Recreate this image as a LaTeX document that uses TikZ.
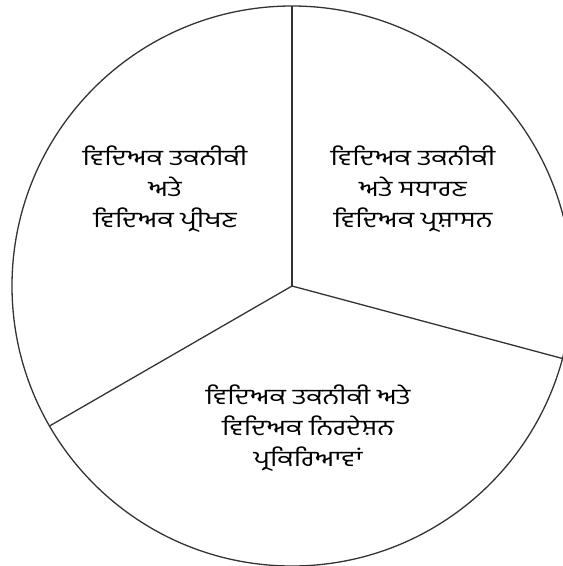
\documentclass[tikz,border=0pt]{standalone}
\usepackage{fontspec}
\newfontfamily\gurfont[Script=Gurmukhi]{Hind Jalandhar}
\begin{document}
\begin{tikzpicture}[x=1pt,y=-1pt,
  seglabel/.style={font=\gurfont\fontsize{22}{31}\selectfont, align=center, text=black, inner sep=0pt, xscale=1.25, transform shape},
  divider/.style={draw=black!80, line width=1.3pt}]
\useasboundingbox (0,0) rectangle (563,566);
\coordinate (c) at (292,286);
\coordinate (ptop) at (292,6);
\coordinate (pright) at (562.5,358.5);
\coordinate (pleft) at (49.5,426);
\draw[divider] (c) circle[radius=280];
\draw[divider] (c) -- (ptop);
\draw[divider] (c) -- (pright);
\draw[divider] (c) -- (pleft);
\node[seglabel] (lefttext) at (165,189) {ਵਿਦਿਅਕ ਤਕਨੀਕੀ\\ਅਤੇ\\ਵਿਦਿਅਕ ਪ੍ਰੀਖਣ};
\node[seglabel] (righttext) at (413,189) {ਵਿਦਿਅਕ ਤਕਨੀਕੀ\\ਅਤੇ ਸਧਾਰਣ\\ਵਿਦਿਅਕ ਪ੍ਰਸ਼ਾਸਨ};
\node[seglabel] (bottomtext) at (308,428) {ਵਿਦਿਅਕ ਤਕਨੀਕੀ ਅਤੇ\\ਵਿਦਿਅਕ ਨਿਰਦੇਸ਼ਨ\\ਪ੍ਰਕਿਰਿਆਵਾਂ};
\end{tikzpicture}
\end{document}
